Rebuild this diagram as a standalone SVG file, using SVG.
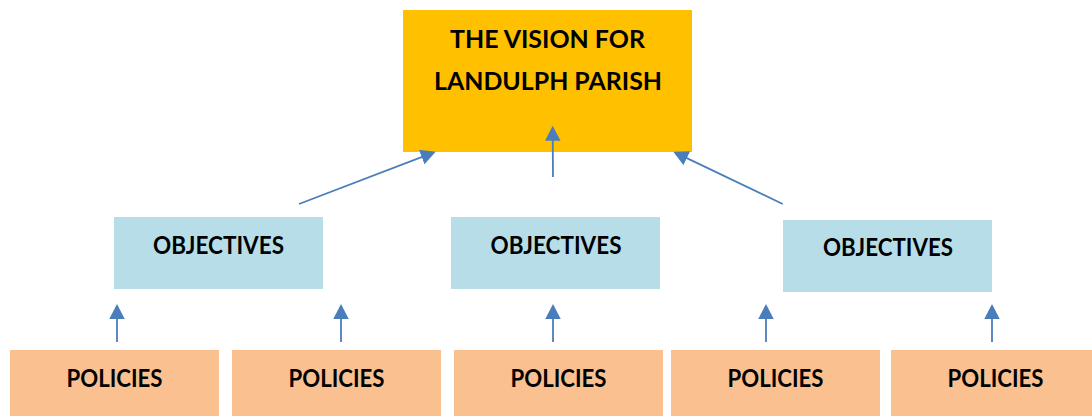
<svg xmlns="http://www.w3.org/2000/svg" width="1092" height="416" viewBox="0 0 1092 416">
  <style>
    .lbl { font-family: Lato, "Open Sans", "Liberation Sans", sans-serif; font-weight: bold; fill: #000; text-anchor: middle; }
    .vision { fill: #FFC000; }
    .obj { fill: #B7DEE8; }
    .pol { fill: #FAC090; }
    .conn { stroke: #4A7EBB; stroke-width: 1.8; fill: none; marker-end: url(#arr); }
  </style>
  <defs>
    <marker id="arr" markerUnits="userSpaceOnUse" markerWidth="16" markerHeight="16" refX="11" refY="7.75" orient="auto">
      <path d="M0,0 L15,7.75 L0,15.5 Z" fill="#4A7EBB"/>
    </marker>
  </defs>
  <rect width="1092" height="416" fill="#FFFFFF"/>

  <g id="vision">
    <rect class="vision" x="403" y="10" width="289" height="142"/>
    <text class="lbl" x="547.5" y="48" font-size="25" textLength="195" lengthAdjust="spacingAndGlyphs">THE VISION FOR</text>
    <text class="lbl" x="548" y="90" font-size="25" textLength="228" lengthAdjust="spacingAndGlyphs">LANDULPH PARISH</text>
  </g>

  <g id="objectives-1">
    <rect class="obj" x="114" y="217" width="209" height="72"/>
    <text class="lbl" x="218.5" y="254" font-size="24" textLength="131" lengthAdjust="spacingAndGlyphs">OBJECTIVES</text>
  </g>
  <g id="objectives-2">
    <rect class="obj" x="451" y="217" width="209" height="72"/>
    <text class="lbl" x="556" y="254" font-size="24" textLength="131" lengthAdjust="spacingAndGlyphs">OBJECTIVES</text>
  </g>
  <g id="objectives-3">
    <rect class="obj" x="783" y="220" width="209" height="72"/>
    <text class="lbl" x="888" y="256" font-size="24" textLength="130" lengthAdjust="spacingAndGlyphs">OBJECTIVES</text>
  </g>

  <g id="policies-1">
    <rect class="pol" x="10" y="350" width="209" height="66"/>
    <text class="lbl" x="114.5" y="387" font-size="24" textLength="96" lengthAdjust="spacingAndGlyphs">POLICIES</text>
  </g>
  <g id="policies-2">
    <rect class="pol" x="232" y="350" width="209" height="66"/>
    <text class="lbl" x="336.5" y="387" font-size="24" textLength="96" lengthAdjust="spacingAndGlyphs">POLICIES</text>
  </g>
  <g id="policies-3">
    <rect class="pol" x="454" y="350" width="209" height="66"/>
    <text class="lbl" x="558.5" y="387" font-size="24" textLength="96" lengthAdjust="spacingAndGlyphs">POLICIES</text>
  </g>
  <g id="policies-4">
    <rect class="pol" x="671" y="350" width="209" height="66"/>
    <text class="lbl" x="775.5" y="387" font-size="24" textLength="96" lengthAdjust="spacingAndGlyphs">POLICIES</text>
  </g>
  <g id="policies-5">
    <rect class="pol" x="891" y="350" width="201" height="66"/>
    <text class="lbl" x="995.5" y="387" font-size="24" textLength="96" lengthAdjust="spacingAndGlyphs">POLICIES</text>
  </g>

  <g id="connectors">
    <line class="conn" x1="299" y1="204" x2="431.96" y2="153.13"/>
    <line class="conn" x1="553" y1="177" x2="552.7" y2="129.7"/>
    <line class="conn" x1="782.7" y1="204" x2="676.9" y2="153.4"/>
    <line class="conn" x1="117" y1="342" x2="117" y2="308"/>
    <line class="conn" x1="341" y1="342" x2="341" y2="308"/>
    <line class="conn" x1="553" y1="342" x2="553" y2="308"/>
    <line class="conn" x1="766" y1="342" x2="766" y2="308"/>
    <line class="conn" x1="992" y1="342" x2="992" y2="308"/>
  </g>
</svg>
